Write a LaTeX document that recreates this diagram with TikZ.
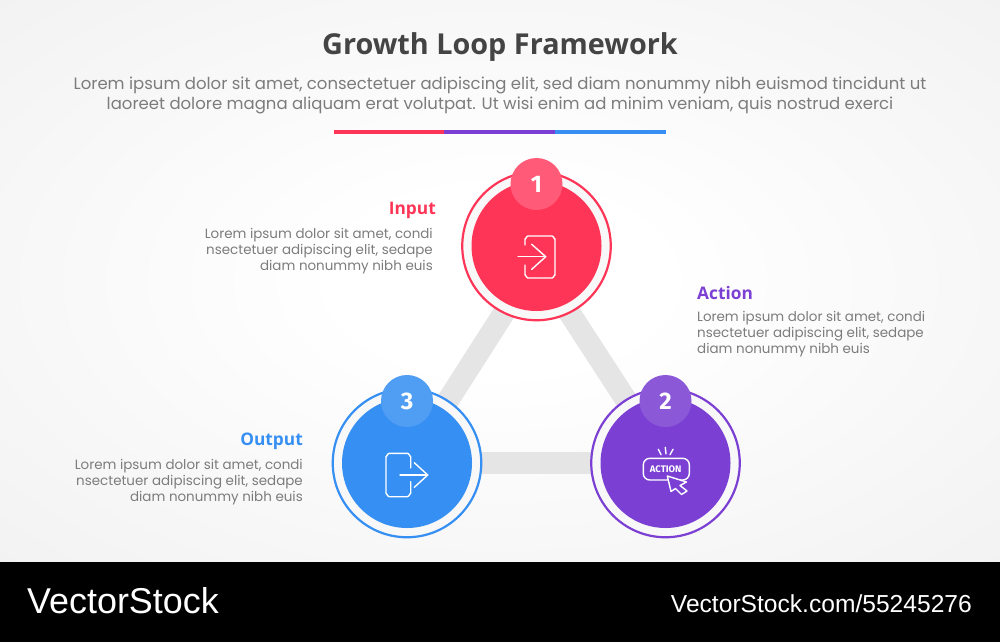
\documentclass[tikz,border=0pt]{standalone}
\usepackage{fontspec}
\setmainfont{Poppins}
\newfontfamily\titlefont{Open Sans}
\newfontfamily\labelfont{Open Sans}
\newfontfamily\numfont{Fira Sans}
\newfontfamily\markfont{Liberation Sans}
\usetikzlibrary{backgrounds}
\definecolor{cred}{HTML}{FF3558}
\definecolor{credl}{HTML}{FF5A78}
\definecolor{cpur}{HTML}{7B40D3}
\definecolor{cpurl}{HTML}{8B58D8}
\definecolor{cblu}{HTML}{368FF2}
\definecolor{cblul}{HTML}{4F9EF3}
\definecolor{ctxt}{HTML}{7C7C7C}
\definecolor{ctitle}{HTML}{444444}
\definecolor{cconn}{HTML}{E5E5E5}
\definecolor{cring}{HTML}{F8F8F8}
\definecolor{bgout}{HTML}{F0F0F0}
\pgfdeclareradialshading{bgshade}{\pgfpoint{0bp}{0bp}}{color(0bp)=(white);color(8bp)=(white);color(40bp)=(bgout);color(100bp)=(bgout)}
\tikzset{
  ring/.style={circle,draw=#1,line width=2.2pt,fill=cring,minimum size=148.5pt,inner sep=0pt,outer sep=0pt},
  disc/.style={circle,fill=#1,minimum size=130pt,inner sep=0pt,outer sep=0pt},
  badge/.style={circle,fill=#1,minimum size=52pt,inner sep=0pt,outer sep=0pt,text=white,font=\numfont\bfseries\fontsize{24}{24}\selectfont},
  conn/.style={draw=cconn,line width=22pt},
  icon/.style={draw=white,line width=1.4pt,line cap=round,line join=round},
  head/.style={font=\labelfont\bfseries\fontsize{17.3}{20}\selectfont,inner sep=0pt},
  bodyr/.style={font=\fontsize{13.45}{16}\selectfont,text=ctxt,align=right,anchor=north east,inner sep=0pt},
  bodyl/.style={font=\fontsize{13.45}{16}\selectfont,text=ctxt,align=left,anchor=north west,inner sep=0pt}
}
\begin{document}
\begin{tikzpicture}[x=1pt,y=-1pt]
\useasboundingbox (0,0) rectangle (1000,642);
% nodes
\node[ring=cred] (r1) at (536.5,246) {};
\node[ring=cpur] (r2) at (665.5,463) {};
\node[ring=cblu] (r3) at (407,463) {};
\node[disc=cred] (d1) at (r1.center) {};
\node[disc=cpur] (d2) at (r2.center) {};
\node[disc=cblu] (d3) at (r3.center) {};
\node[badge=credl] (b1) at (536.5,184) {1};
\node[badge=cpurl] (b2) at (665.5,401) {2};
\node[badge=cblul] (b3) at (407,401) {3};
\coordinate (apex) at (536.5,262);
\coordinate (left) at (408,463);
\coordinate (right) at (667,463);
\begin{scope}[on background layer]
  \path[shading=bgshade] (0,0) rectangle (1000,562);
  \draw[conn] (apex) -- (right);
  \draw[conn] (right) -- (left);
  \draw[conn] (left) -- (apex);
\end{scope}
% footer
\fill[black] (0,562) rectangle (1000,642);
\node[anchor=base west,inner sep=0pt,text=white,font=\markfont\fontsize{35.9}{36}\selectfont] (logo) at (27,613) {VectorStock};
\node[anchor=base east,inner sep=0pt,text=white,font=\markfont\fontsize{24.6}{25}\selectfont] (url) at (972,612) {VectorStock.com/55245276};
% title
\node[inner sep=0pt,text=ctitle,font=\titlefont\bfseries\fontsize{28.8}{32}\selectfont] (title) at (500,47) {Growth Loop Framework};
\node[inner sep=0pt,text=ctxt,align=center,font=\fontsize{16.5}{20}\selectfont] (sub) at (500,95) {Lorem ipsum dolor sit amet, consectetuer adipiscing elit, sed diam nonummy nibh euismod tincidunt ut\\laoreet dolore magna aliquam erat volutpat. Ut wisi enim ad minim veniam, quis nostrud exerci};
\fill[cred] (334,130) rectangle (444,134);
\fill[cpur] (444,130) rectangle (555,134);
\fill[cblu] (555,130) rectangle (666,134);
% labels
\node[head,text=cred,anchor=east] (h1) at (436,210) {Input};
\node[bodyr] (t1) at (433,228) {Lorem ipsum dolor sit amet, condi\\nsectetuer adipiscing elit, sedape\\diam nonummy nibh euis};
\node[head,text=cpur,anchor=west] (h2) at (697,293) {Action};
\node[bodyl] (t2) at (697,311) {Lorem ipsum dolor sit amet, condi\\nsectetuer adipiscing elit, sedape\\diam nonummy nibh euis};
\node[head,text=cblu,anchor=east] (h3) at (303,441) {Output};
\node[bodyr] (t3) at (303,459) {Lorem ipsum dolor sit amet, condi\\nsectetuer adipiscing elit, sedape\\diam nonummy nibh euis};
% icon 1
\draw[icon] (525,245) -- (525,239) to[out=-90,in=180] (528,236) -- (552,236) to[out=0,in=-90] (555,239) -- (555,275) to[out=90,in=0] (552,278) -- (528,278) to[out=180,in=90] (525,275) -- (525,265);
\draw[icon] (518,256.7) -- (545.7,256.7);
\draw[icon] (531.7,244.3) -- (545.7,256.7) -- (531.7,269.3);
% icon 3
\draw[icon] (410.7,468) -- (410.7,456.5) to[out=-90,in=0] (407.5,453.3) -- (389.2,453.3) to[out=180,in=-90] (386,456.5) -- (386,493.5) to[out=90,in=180] (389.2,496.7) -- (407.5,496.7) to[out=0,in=90] (410.7,493.5) -- (410.7,481.7);
\draw[icon] (400,475) -- (427.7,475);
\draw[icon] (414.3,462.7) -- (427.7,475) -- (414.3,487.3);
% icon 2
\draw[icon,rounded corners=6.5pt] (643.3,458.3) rectangle (689.3,480);
\node[inner sep=0pt,text=white,font=\numfont\bfseries\fontsize{9.5}{10}\selectfont] (act) at (665.7,469) {ACTION};
\draw[icon] (658.3,449.3) -- (661,454.7);
\draw[icon] (665.3,447.3) -- (666,454);
\draw[icon] (673,449.3) -- (670,454.7);
\draw[icon,fill=cpur] (667.3,476) -- (686.5,482) -- (680,485.5) -- (687,491) -- (681.5,494.5) -- (675.5,488.5) -- (671,491.5) -- cycle;
\end{tikzpicture}
\end{document}
